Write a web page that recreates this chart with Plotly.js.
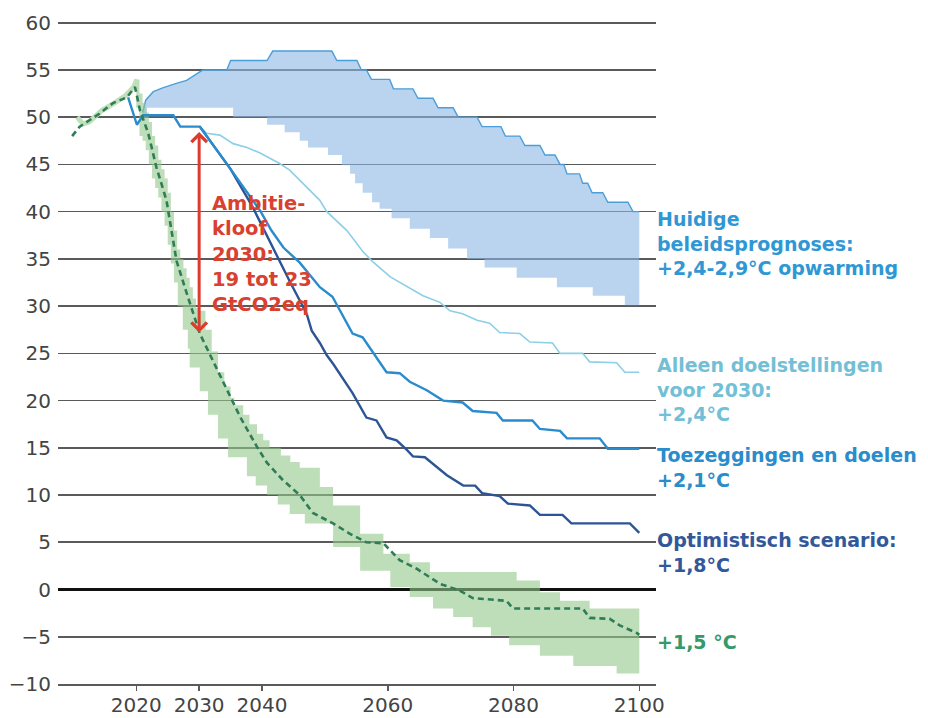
<!DOCTYPE html>
<html>
<head>
<meta charset="utf-8">
<script src="https://cdn.plot.ly/plotly-3.0.1.min.js"></script>
<style>html,body{margin:0;padding:0;background:#fff}#chart{width:928px;height:718px}</style>
</head>
<body>
<div id="chart"></div>
<script>
// ---- Huidige beleidsprognoses (band) ----
const policyUpperYears = [2021.0, 2021.5, 2022.7, 2024.2, 2026.5, 2028.0, 2030.1, 2030.6, 2034.4, 2035.0, 2040.8, 2041.7, 2051.1, 2051.9, 2055.1, 2055.8, 2056.6, 2057.4, 2060.3, 2060.9, 2064.0, 2064.8, 2067.2, 2068.0, 2070.4, 2071.2, 2074.2, 2075.0, 2078.0, 2078.7, 2081.0, 2081.8, 2084.2, 2085.0, 2086.6, 2087.4, 2088.0, 2088.5, 2090.5, 2091.0, 2091.8, 2092.5, 2094.2, 2095.0, 2098.2, 2099.0, 2100.0];
const policyUpper = [50.5, 51.8, 52.7, 53.1, 53.6, 53.9, 54.8, 55.0, 55.0, 56.0, 56.0, 57.0, 57.0, 56.0, 56.0, 55.0, 55.0, 54.0, 54.0, 53.0, 53.0, 52.0, 52.0, 51.0, 51.0, 50.0, 50.0, 49.0, 49.0, 48.0, 48.0, 47.0, 47.0, 46.0, 46.0, 45.0, 45.0, 44.0, 44.0, 43.0, 43.0, 42.0, 42.0, 41.0, 41.0, 40.0, 40.0];
const policyLowerYears = [2021.0, 2021.7, 2035.4, 2040.8, 2043.6, 2046.0, 2047.3, 2050.5, 2052.7, 2054.0, 2054.8, 2056.0, 2057.5, 2058.7, 2060.6, 2063.5, 2066.7, 2069.6, 2072.6, 2075.4, 2080.5, 2086.9, 2092.6, 2097.7, 2100.0];
const policyLower = [50.2, 51.0, 50.0, 49.2, 48.4, 47.5, 46.8, 46.0, 44.9, 44.0, 43.0, 42.0, 41.0, 40.3, 39.3, 38.2, 37.2, 36.1, 35.0, 34.1, 33.0, 32.0, 31.1, 30.1, 30.1];

// ---- Toezeggingen en doelen ----
const pledgesYears = [2018.7, 2020.1, 2021.1, 2025.9, 2027.0, 2030.1, 2035.0, 2039.7, 2041.5, 2043.4, 2046.0, 2049.2, 2051.2, 2054.4, 2056.0, 2059.8, 2061.9, 2063.5, 2066.2, 2068.8, 2071.9, 2073.5, 2077.3, 2078.3, 2083.0, 2084.2, 2087.4, 2088.5, 2093.7, 2095.0, 2100.0];
const pledges = [52.1, 49.2, 50.2, 50.2, 49.0, 49.0, 44.5, 40.1, 38.0, 36.2, 34.6, 32.0, 31.0, 27.1, 26.7, 23.0, 22.9, 22.0, 21.1, 20.0, 19.8, 18.9, 18.7, 17.9, 17.9, 17.0, 16.8, 16.0, 16.0, 14.9, 14.9];

// ---- Optimistisch scenario ----
const optimisticYears = [2030.1, 2035.0, 2038.5, 2041.7, 2044.5, 2047.1, 2047.9, 2049.2, 2050.3, 2051.3, 2054.4, 2056.6, 2058.2, 2059.8, 2061.4, 2063.0, 2064.0, 2065.9, 2067.8, 2069.4, 2072.0, 2073.9, 2075.0, 2077.8, 2079.1, 2082.6, 2084.2, 2087.8, 2089.2, 2098.5, 2100.0];
const optimistic = [49.0, 44.5, 40.5, 36.2, 32.5, 29.2, 27.4, 26.1, 24.8, 23.9, 20.8, 18.2, 17.9, 16.1, 15.8, 14.8, 14.1, 14.0, 13.0, 12.1, 11.0, 11.0, 10.2, 9.9, 9.1, 8.9, 7.9, 7.9, 7.0, 7.0, 6.0];

// ---- Alleen doelstellingen voor 2030 ----
const targetsYears = [2030.1, 2031.2, 2033.3, 2035.4, 2037.6, 2039.7, 2042.8, 2044.4, 2047.1, 2049.2, 2050.3, 2053.5, 2056.0, 2057.6, 2060.4, 2063.0, 2065.6, 2068.3, 2069.9, 2071.9, 2074.2, 2076.2, 2077.8, 2081.0, 2082.6, 2086.2, 2087.4, 2091.0, 2092.1, 2096.4, 2097.7, 2100.0];
const targets = [49.0, 48.3, 48.1, 47.2, 46.8, 46.2, 45.1, 44.4, 42.6, 41.2, 40.0, 38.0, 35.8, 34.7, 33.1, 32.1, 31.1, 30.4, 29.5, 29.2, 28.5, 28.2, 27.2, 27.1, 26.2, 26.1, 25.0, 25.0, 24.1, 24.0, 23.0, 23.0];

// ---- +1,5 °C pad (gestippeld) en bandbreedte ----
const pathwayYears = [2009.8, 2011.0, 2012.6, 2014.2, 2016.3, 2018.5, 2019.8, 2020.6, 2021.9, 2023.2, 2024.8, 2025.9, 2026.4, 2028.0, 2030.1, 2032.2, 2034.4, 2036.5, 2039.2, 2040.8, 2043.3, 2046.0, 2048.1, 2051.3, 2054.0, 2056.6, 2059.3, 2061.9, 2064.6, 2068.3, 2071.4, 2073.5, 2078.9, 2079.9, 2091.0, 2092.1, 2095.3, 2096.9, 2099.6, 2100.0];
const pathway = [48.0, 49.0, 49.7, 50.4, 51.5, 52.1, 53.2, 50.7, 48.3, 44.7, 41.2, 37.0, 34.8, 31.4, 27.1, 24.2, 21.1, 18.3, 15.1, 13.4, 11.6, 10.0, 8.1, 7.0, 5.9, 5.0, 4.9, 3.1, 2.2, 0.6, -0.1, -0.9, -1.2, -2.0, -2.0, -3.0, -3.1, -3.8, -4.6, -4.8];
const band15UpperYears = [2020.0, 2020.5, 2021.0, 2021.5, 2022.0, 2022.5, 2023.0, 2023.5, 2024.0, 2024.5, 2025.0, 2025.5, 2026.0, 2026.5, 2027.0, 2027.5, 2028.0, 2028.5, 2029.0, 2029.5, 2030.0, 2031.0, 2032.0, 2033.0, 2034.0, 2035.0, 2035.6, 2037.0, 2038.0, 2039.2, 2040.2, 2041.2, 2043.0, 2044.5, 2046.0, 2049.2, 2051.3, 2055.6, 2059.3, 2063.5, 2066.7, 2080.5, 2084.2, 2087.4, 2092.1, 2100.0];
const band15Upper = [54.0, 52.5, 51.5, 50.5, 49.5, 48.0, 47.0, 45.5, 44.5, 43.5, 42.0, 40.0, 38.0, 36.0, 35.0, 34.0, 33.0, 32.0, 30.8, 29.8, 29.5, 27.5, 25.2, 23.0, 21.5, 20.3, 19.5, 18.5, 17.5, 16.5, 15.8, 15.0, 14.2, 13.5, 12.9, 10.85, 8.9, 5.9, 3.8, 2.9, 1.85, 0.95, -0.3, -1.2, -2.0, -2.0];
const band15LowerYears = [2020.0, 2020.5, 2021.0, 2021.5, 2022.0, 2022.5, 2023.0, 2023.5, 2024.0, 2024.5, 2025.0, 2025.5, 2026.0, 2026.6, 2027.4, 2028.2, 2028.5, 2030.1, 2031.4, 2033.0, 2034.6, 2037.6, 2039.0, 2040.8, 2042.5, 2044.4, 2046.8, 2051.3, 2055.6, 2060.4, 2063.5, 2067.2, 2070.4, 2073.5, 2076.4, 2079.3, 2084.2, 2089.5, 2096.4, 2100.0];
const band15Lower = [51.0, 48.0, 47.5, 46.5, 45.0, 43.5, 42.5, 41.5, 40.0, 38.5, 36.5, 34.5, 32.5, 30.0, 27.5, 25.5, 23.5, 21.0, 18.5, 16.0, 14.0, 12.0, 11.0, 10.0, 9.0, 8.0, 7.0, 4.5, 2.0, 0.26, -0.8, -2.0, -2.9, -4.0, -4.9, -5.9, -7.0, -8.1, -8.9, -8.9];
const historicYears = [2010.6, 2011.5, 2012.5, 2014.5, 2016.5, 2018.3, 2019.6, 2020.1];
const historic = [50.0, 49.3, 49.5, 50.7, 51.5, 52.3, 53.2, 54.0];

// ---- Axis ticks ----
const xTickVals = [2020, 2030, 2040, 2060, 2080, 2100];
const xTickText = ['2020', '2030', '2040', '2060', '2080', '2100'];

// ---- Labels ----
const labelTexts = [
  'Huidige<br>beleidsprognoses:<br>+2,4-2,9°C opwarming',
  'Alleen doelstellingen<br>voor 2030:<br>+2,4°C',
  'Toezeggingen en doelen<br>+2,1°C',
  'Optimistisch scenario:<br>+1,8°C',
  '+1,5 °C'
];
const labelColors = ['#2f98d4', '#72bfd6', '#2b8ccb', '#33589a', '#35996a'];
const labelY = [36.6, 21.15, 12.95, 3.9, -5.55];
const gapText = 'Ambitie-<br>kloof<br>2030:<br>19 tot 23<br>GtCO2eq';
const gapFrom = 48.6, gapTo = 27.2, gapYear = 2030;

const traces = [
  {x: policyLowerYears, y: policyLower, mode: 'lines', line: {width: 0, shape: 'hv'}, showlegend: false},
  {x: policyUpperYears, y: policyUpper, mode: 'lines', line: {width: 1.4, color: '#4b9fd9'}, fill: 'tonexty', fillcolor: 'rgba(140,182,228,0.6)', showlegend: false},
  {x: band15LowerYears, y: band15Lower, mode: 'lines', line: {width: 0, shape: 'hv'}, showlegend: false},
  {x: band15UpperYears, y: band15Upper, mode: 'lines', line: {width: 0, shape: 'hv'}, fill: 'tonexty', fillcolor: 'rgba(147,200,138,0.6)', showlegend: false},
  {x: historicYears, y: historic, mode: 'lines', line: {width: 5, color: '#bfe0b9'}, showlegend: false},
  {x: targetsYears, y: targets, mode: 'lines', line: {width: 1.6, color: '#8ccfe6'}, showlegend: false},
  {x: optimisticYears, y: optimistic, mode: 'lines', line: {width: 2.4, color: '#2d5596'}, showlegend: false},
  {x: pledgesYears, y: pledges, mode: 'lines', line: {width: 2.4, color: '#2a8ccc'}, showlegend: false},
  {x: pathwayYears, y: pathway, mode: 'lines', line: {width: 2.6, color: '#2f7d57', dash: '6px,4px'}, showlegend: false}
];

const annotations = labelTexts.map((t, i) => ({
  xref: 'paper', yref: 'y', x: 0.998, y: labelY[i], xanchor: 'left', yanchor: 'middle',
  text: t, align: 'left', showarrow: false,
  font: {family: 'DejaVu Sans', size: 19, weight: 'bold', color: labelColors[i]}
}));
annotations.push({
  xref: 'x', yref: 'y', x: 2031.7, y: 35.5, xanchor: 'left', yanchor: 'middle',
  text: gapText, align: 'left', showarrow: false,
  font: {family: 'DejaVu Sans', size: 19.5, weight: 'bold', color: '#d9402f'}
});
annotations.push({
  xref: 'x', yref: 'y', axref: 'x', ayref: 'y', x: gapYear, y: gapTo, ax: gapYear, ay: gapFrom,
  text: '', showarrow: true, arrowside: 'end+start', arrowhead: 4, startarrowhead: 4,
  arrowsize: 1, startarrowsize: 1, arrowwidth: 3, arrowcolor: '#dc3b2d', standoff: 0, startstandoff: 0
});

const layout = {
  width: 928, height: 718,
  margin: {l: 58, r: 272, t: 18, b: 34, pad: 0},
  paper_bgcolor: '#ffffff', plot_bgcolor: '#ffffff',
  showlegend: false, hovermode: false,
  xaxis: {
    range: [2007.55, 2102.66], tickvals: xTickVals, ticktext: xTickText,
    showgrid: false, zeroline: false, showline: true, linecolor: '#5a5a5a', linewidth: 1.6,
    ticks: 'outside', ticklen: 5, tickwidth: 1.5, tickcolor: '#5a5a5a', ticklabelstandoff: -3,
    tickfont: {family: 'DejaVu Sans', size: 20, color: '#444'}, automargin: false, fixedrange: true
  },
  yaxis: {
    range: [-10, 60.5], dtick: 5, tick0: 0,
    showgrid: true, gridcolor: '#5a5a5a', gridwidth: 1.6,
    zeroline: true, zerolinecolor: '#111', zerolinewidth: 2.6,
    showline: false, ticks: '', ticklabelstandoff: 6,
    tickfont: {family: 'DejaVu Sans', size: 20, color: '#444'}, automargin: false, fixedrange: true
  },
  annotations: annotations
};

Plotly.newPlot('chart', traces, layout, {staticPlot: true, displayModeBar: false});
</script>
</body>
</html>
